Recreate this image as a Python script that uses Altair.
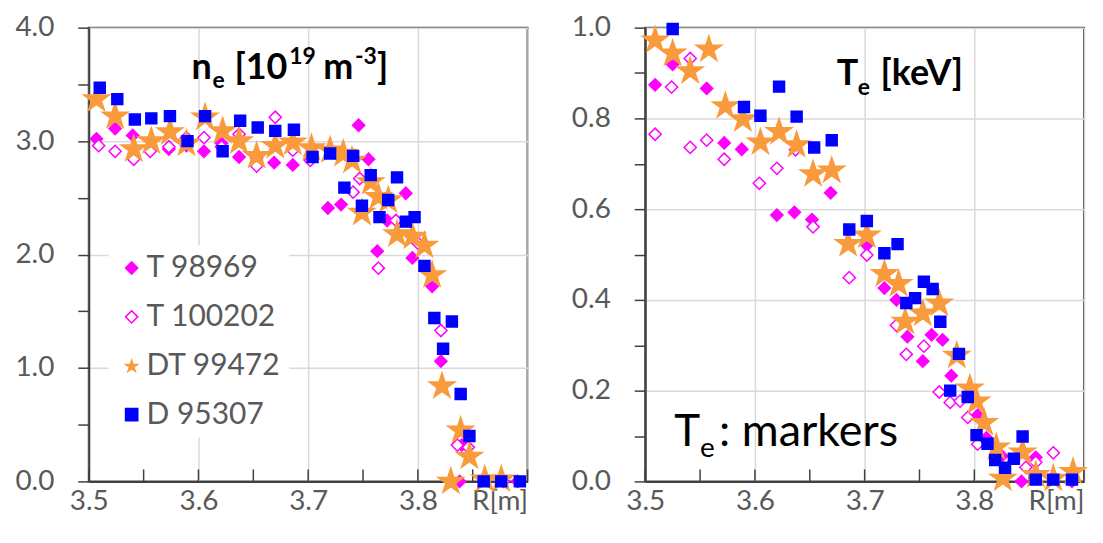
import altair as alt
import pandas as pd

SERIES = ["T 98969", "T 100202", "DT 99472", "D 95307"]

# ---------------- left panel: n_e ----------------
NE_T98969_R = [3.507, 3.524, 3.540, 3.557, 3.573, 3.589, 3.605, 3.621, 3.637, 3.653, 3.669, 3.686, 3.702,
               3.718, 3.730, 3.746, 3.755, 3.763, 3.772, 3.789, 3.795, 3.813, 3.821, 3.840, 3.838, 3.891]
NE_T98969_V = [3.02, 3.11, 3.05, 2.93, 2.93, 2.96, 2.91, 2.98, 2.86, 2.85, 2.81, 2.79, 2.87,
               2.41, 2.44, 3.14, 2.84, 2.03, 2.30, 2.54, 1.97, 1.72, 1.06, 0.32, 0.00, 0.00]

NE_T100202_R = [3.509, 3.524, 3.541, 3.556, 3.573, 3.589, 3.605, 3.621, 3.637, 3.653, 3.670, 3.686, 3.702,
                3.741, 3.747, 3.764, 3.780, 3.800, 3.821, 3.836, 3.846, 3.860, 3.878]
NE_T100202_V = [2.96, 2.91, 2.84, 2.91, 2.95, 3.03, 3.03, 2.95, 3.06, 2.78, 3.21, 2.92, 2.83,
                2.55, 2.67, 1.88, 2.30, 2.10, 1.33, 0.32, 0.30, 0.02, 0.00]

NE_DT99472_R = [3.507, 3.524, 3.541, 3.557, 3.574, 3.589, 3.606, 3.622, 3.637, 3.653, 3.670, 3.686, 3.703,
                3.720, 3.732, 3.740, 3.749, 3.757, 3.764, 3.773, 3.781, 3.795, 3.806, 3.813, 3.822, 3.830,
                3.839, 3.847, 3.861, 3.876]
NE_DT99472_V = [3.38, 3.23, 2.94, 3.01, 3.09, 2.99, 3.22, 3.10, 3.01, 2.88, 2.97, 3.00, 2.95,
                2.93, 2.90, 2.84, 2.38, 2.65, 2.52, 2.49, 2.19, 2.17, 2.09, 1.83, 0.85, 0.01,
                0.46, 0.23, 0.03, 0.03]

NE_D95307_R = [3.510, 3.526, 3.542, 3.557, 3.574, 3.590, 3.606, 3.622, 3.638, 3.654, 3.670, 3.687, 3.704,
               3.720, 3.733, 3.741, 3.749, 3.757, 3.765, 3.773, 3.781, 3.789, 3.797, 3.806, 3.815, 3.823,
               3.831, 3.839, 3.847, 3.860, 3.876, 3.893]
NE_D95307_V = [3.47, 3.37, 3.19, 3.20, 3.22, 3.00, 3.22, 2.91, 3.18, 3.12, 3.09, 3.10, 2.86,
               2.89, 2.59, 2.87, 2.43, 2.70, 2.33, 2.48, 2.68, 2.29, 2.33, 1.90, 1.44, 1.17,
               1.41, 0.77, 0.40, 0.00, 0.00, 0.00]

# ---------------- right panel: T_e ----------------
TE_T98969_R = [3.509, 3.525, 3.556, 3.572, 3.588, 3.620, 3.636, 3.652, 3.669, 3.702, 3.718, 3.729, 3.739,
               3.753, 3.761, 3.771, 3.779, 3.803, 3.811, 3.825, 3.843, 3.856, 3.889]
TE_T98969_V = [0.874, 0.919, 0.866, 0.746, 0.732, 0.587, 0.593, 0.577, 0.636, 0.521, 0.426, 0.400, 0.319,
               0.265, 0.323, 0.312, 0.233, 0.146, 0.096, 0.056, 0.000, 0.053, 0.000]

TE_T100202_R = [3.509, 3.524, 3.541, 3.541, 3.556, 3.572, 3.604, 3.620, 3.637, 3.653, 3.686, 3.702, 3.729,
                3.738, 3.754, 3.768, 3.778, 3.787, 3.794, 3.803, 3.847, 3.856, 3.872]
TE_T100202_V = [0.765, 0.869, 0.932, 0.736, 0.752, 0.710, 0.657, 0.690, 0.731, 0.561, 0.449, 0.499, 0.344,
                0.280, 0.298, 0.197, 0.174, 0.177, 0.141, 0.082, 0.031, 0.042, 0.063]

TE_DT99472_R = [3.509, 3.525, 3.541, 3.558, 3.573, 3.589, 3.605, 3.622, 3.638, 3.653, 3.670, 3.685, 3.702,
                3.718, 3.731, 3.737, 3.753, 3.768, 3.784, 3.796, 3.802, 3.809, 3.820, 3.826, 3.844, 3.856,
                3.872, 3.890]
TE_DT99472_V = [0.975, 0.946, 0.907, 0.955, 0.830, 0.801, 0.750, 0.773, 0.744, 0.680, 0.688, 0.526, 0.545,
                0.460, 0.438, 0.355, 0.373, 0.395, 0.280, 0.208, 0.179, 0.132, 0.078, 0.009, 0.067, 0.017,
                0.009, 0.024]

TE_D95307_R = [3.525, 3.590, 3.605, 3.622, 3.638, 3.654, 3.670, 3.686, 3.702, 3.718, 3.730, 3.738, 3.746,
               3.754, 3.762, 3.769, 3.778, 3.786, 3.794, 3.802, 3.812, 3.819, 3.828, 3.836, 3.844, 3.856,
               3.872, 3.889]
TE_D95307_V = [0.997, 0.825, 0.806, 0.870, 0.804, 0.736, 0.752, 0.555, 0.574, 0.503, 0.523, 0.393, 0.404,
               0.440, 0.424, 0.352, 0.200, 0.281, 0.186, 0.102, 0.083, 0.047, 0.030, 0.050, 0.099, 0.004,
               0.004, 0.004]

X_TICKS = [3.5, 3.55, 3.6, 3.65, 3.7, 3.75, 3.8, 3.85, 3.9]
NE_TICKS = [0.0, 0.5, 1.0, 1.5, 2.0, 2.5, 3.0, 3.5, 4.0]
TE_TICKS = [0.0, 0.1, 0.2, 0.3, 0.4, 0.5, 0.6, 0.7, 0.8, 0.9, 1.0]

W, H = 440, 455
FONT = "Lato"
STAR = ("M0,-0.905L0.2245,-0.214L0.9511,-0.214L0.3633,0.213L0.5878,0.904L0,0.477"
        "L-0.5878,0.904L-0.3633,0.213L-0.9511,-0.214L-0.2245,-0.214Z")
SIZE_EXPR = ("datum.series == 'DT 99472' ? 720 : (datum.series == 'D 95307' ? 120 : 150)")


def make_df(pairs):
    frames = []
    for name, rs, vs in pairs:
        frames.append(pd.DataFrame({"R": rs, "v": vs, "series": name}))
    return pd.concat(frames, ignore_index=True)


ne_df = make_df([(SERIES[0], NE_T98969_R, NE_T98969_V), (SERIES[1], NE_T100202_R, NE_T100202_V),
                 (SERIES[2], NE_DT99472_R, NE_DT99472_V), (SERIES[3], NE_D95307_R, NE_D95307_V)])
te_df = make_df([(SERIES[0], TE_T98969_R, TE_T98969_V), (SERIES[1], TE_T100202_R, TE_T100202_V),
                 (SERIES[2], TE_DT99472_R, TE_DT99472_V), (SERIES[3], TE_D95307_R, TE_D95307_V)])

MAJOR10 = "abs(datum.value*10 - round(datum.value*10)) < 0.001"


def x_axis():
    return alt.Axis(
        values=X_TICKS, title=None, tickSize=0, labelPadding=6, labelOverlap=False,
        labelExpr=f"datum.value > 3.89 ? 'R[m]' : ({MAJOR10} ? format(datum.value, '.1f') : '')",
        labelAlign={"condition": {"test": "datum.value > 3.89", "value": "right"}, "value": "center"},
        gridOpacity={"condition": {"test": MAJOR10, "value": 1}, "value": 0},
    )


def points(df, ydomain, yaxis, show_legend):
    if show_legend:
        leg = alt.Legend(title=None, orient="none", legendX=20, legendY=218, labelFontSize=30,
                         labelColor="#595959", labelFont=FONT, symbolSize=150, rowPadding=19,
                         padding=8, fillColor="white", labelOffset=0, symbolStrokeWidth=1.5)
    else:
        leg = None
    return alt.Chart(df).transform_calculate(sz=SIZE_EXPR).mark_point(opacity=1, strokeWidth=1.5).encode(
        x=alt.X("R:Q", scale=alt.Scale(domain=[3.5, 3.9], nice=False, zero=False), axis=x_axis()),
        y=alt.Y("v:Q", scale=alt.Scale(domain=ydomain, nice=False), axis=yaxis),
        color=alt.Color("series:N", sort=SERIES,
                        scale=alt.Scale(domain=SERIES, range=["#FF00FF", "#FF00FF", "#F99A3D", "#0000FF"]),
                        legend=leg),
        fill=alt.Fill("series:N", sort=SERIES,
                      scale=alt.Scale(domain=SERIES, range=["#FF00FF", "white", "#F99A3D", "#0000FF"]),
                      legend=leg),
        shape=alt.Shape("series:N", sort=SERIES,
                        scale=alt.Scale(domain=SERIES, range=["diamond", "diamond", STAR, "square"]),
                        legend=leg),
        size=alt.Size("sz:Q", scale=None, legend=None),
    )


def inner_ticks():
    return alt.Chart(pd.DataFrame({"t": X_TICKS})).mark_rule(color="#404040", strokeWidth=1.5).encode(
        x=alt.X("t:Q", scale=alt.Scale(domain=[3.5, 3.9], nice=False, zero=False)),
        y=alt.value(H - 12), y2=alt.value(H),
    )


def txt(s, x, y, size, weight="bold"):
    return alt.Chart(alt.Data(values=[{}])).mark_text(
        text=s, font=FONT, fontSize=size, fontWeight=weight, color="black",
        align="left", baseline="alphabetic").encode(x=alt.value(x), y=alt.value(y))


# pixel helpers: positions relative to each plot area
LX, LY = 90, 26
RX, RY = 646, 26

ne_yaxis = alt.Axis(values=NE_TICKS, title=None, tickSize=11, labelPadding=24, labelOverlap=False,
                    labelExpr="datum.value % 1 == 0 ? format(datum.value, '.1f') : ''",
                    gridOpacity={"condition": {"test": "datum.value % 1 == 0", "value": 1}, "value": 0})
te_yaxis = alt.Axis(values=TE_TICKS, title=None, tickSize=11, labelPadding=24, labelOverlap=False,
                    labelExpr="round(datum.value*10) % 2 == 0 ? format(datum.value, '.1f') : ''",
                    gridOpacity={"condition": {"test": "round(datum.value*10) % 2 == 0", "value": 1},
                                 "value": 0})

left = alt.layer(
    inner_ticks(),
    points(ne_df, [0, 4], ne_yaxis, True),
    txt("n", 193 - LX, 77 - LY, 36),
    txt("e", 214 - LX, 87 - LY, 23),
    txt("[10", 236 - LX, 77 - LY, 36),
    txt("19", 291 - LX, 62 - LY, 23),
    txt("m", 325 - LX, 77 - LY, 36),
    txt("-3", 357 - LX, 62 - LY, 23),
    txt("]", 379 - LX, 77 - LY, 36),
).properties(width=W, height=H)

right = alt.layer(
    inner_ticks(),
    points(te_df, [0, 1], te_yaxis, False),
    txt("T", 838 - RX, 84 - RY, 36),
    txt("e", 859 - RX, 94 - RY, 23),
    txt("[keV]", 882 - RX, 84 - RY, 36),
    txt("T", 675 - RX, 446 - RY, 44, "normal"),
    txt("e", 701 - RX, 457 - RY, 28, "normal"),
    txt(": markers", 720 - RX, 446 - RY, 45, "normal"),
).properties(width=W, height=H)

chart = alt.hconcat(left, right, spacing=40).resolve_legend(
    color="independent", fill="independent", shape="independent"
).properties(
    padding={"left": 5, "top": 4, "right": 5, "bottom": 5}
).configure_view(
    stroke="#404040", strokeWidth=2
).configure_axis(
    labelFont=FONT, labelFontSize=28, labelColor="#595959",
    domainColor="#404040", domainWidth=2, tickColor="#404040", tickWidth=1.5,
    gridColor="#D9D9D9", gridWidth=1.5,
)

chart.save("out.html", embed_options={"renderer": "svg", "actions": False})
